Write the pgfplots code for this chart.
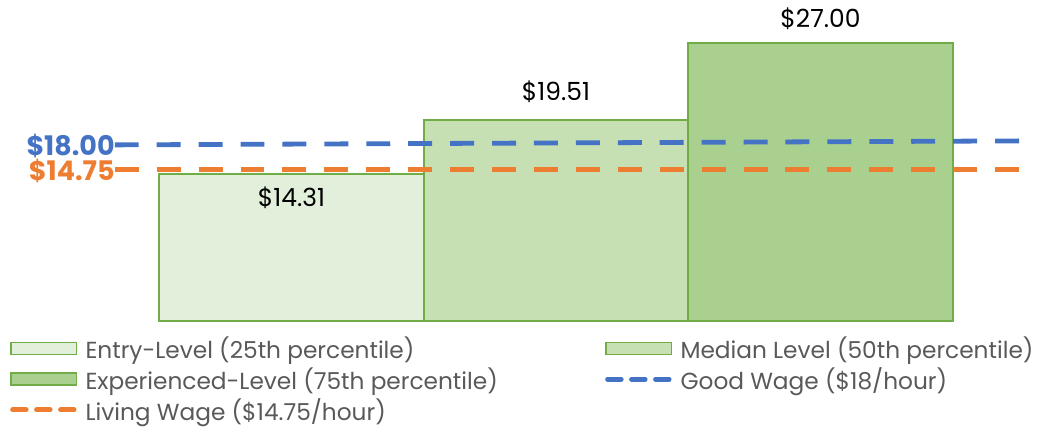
\documentclass[border=0pt]{standalone}
\usepackage{pgfplots}
\pgfplotsset{compat=1.18}
\usepackage{fontspec}
\setmainfont{Poppins}
\definecolor{bluew}{HTML}{4472C4}
\definecolor{orangew}{HTML}{ED7D31}
\definecolor{g1}{HTML}{E2EFDA}
\definecolor{g2}{HTML}{C6E0B4}
\definecolor{g3}{HTML}{A9D08E}
\definecolor{gb}{HTML}{70AD47}
\definecolor{txt}{HTML}{595959}
\begin{document}
\begin{tikzpicture}[x=1pt,y=1pt]
\begin{axis}[
  name=ax,
  scale only axis,
  width=910pt, height=320pt,
  xmin=-0.6679, xmax=2.7660,
  ymin=0, ymax=31,
  axis lines=none,
  clip=false,
  ybar, bar shift=0pt, bar width=1,
  legend columns=2,
  legend cell align=left,
  legend style={draw=none, fill=none, font=\fontsize{23.3}{27}\selectfont, text=txt,
    at={(axis description cs:-0.1154,-0.041)}, anchor=north west,
    inner sep=0pt, row sep=3.5pt,
    nodes={inner xsep=8.5pt, inner ysep=2pt},
    /tikz/column 2/.style={column sep=99pt}},
]
\addplot[draw=gb, line width=1.8pt, fill=g1,
  legend image code/.code={\draw[draw=gb, fill=g1, line width=1.5pt] (0.75pt,-6pt) rectangle (66.25pt,6pt);}]
  coordinates {(0,14.31)};
\addlegendentry{Entry-Level (25th percentile)}
\addplot[draw=gb, line width=1.8pt, fill=g2,
  legend image code/.code={\draw[draw=gb, fill=g2, line width=1.5pt] (0.75pt,-6pt) rectangle (66.25pt,6pt);}]
  coordinates {(1,19.51)};
\addlegendentry{Median Level (50th percentile)}
\addplot[draw=gb, line width=1.8pt, fill=g3,
  legend image code/.code={\draw[draw=gb, fill=g3, line width=1.5pt] (0.75pt,-6pt) rectangle (66.25pt,6pt);}]
  coordinates {(2,27.00)};
\addlegendentry{Experienced-Level (75th percentile)}
\addplot[sharp plot, bluew, line width=4.8pt, dash pattern=on 24pt off 18pt,
  legend image code/.code={\draw[bluew, line width=5pt, line cap=round, dash pattern=on 13.5pt off 10.5pt] (2.5pt,0pt) -- (64.5pt,0pt);}]
  coordinates {(-0.6679,17.13) (2.7660,17.52)};
\addlegendentry{Good Wage (\$18/hour)}
\addplot[sharp plot, orangew, line width=4.8pt, dash pattern=on 24pt off 18pt,
  legend image code/.code={\draw[orangew, line width=5pt, line cap=round, dash pattern=on 13.5pt off 10.5pt] (2.5pt,0pt) -- (64.5pt,0pt);}]
  coordinates {(-0.6679,14.71) (2.7660,14.71)};
\addlegendentry{Living Wage (\$14.75/hour)}
\node[font=\fontsize{25}{29}\selectfont, text=black] at (axis cs:0,12.0) {\$14.31};
\node[font=\fontsize{25}{29}\selectfont, text=black] at (axis cs:1,22.3) {\$19.51};
\node[font=\fontsize{25}{29}\selectfont, text=black] at (axis cs:2,29.4) {\$27.00};
\node[font=\bfseries\fontsize{27}{30}\selectfont, text=bluew, anchor=east, inner sep=0pt] at (axis cs:-0.6679,17.05) {\$18.00};
\node[font=\bfseries\fontsize{27}{30}\selectfont, text=orangew, anchor=east, inner sep=0pt] at (axis cs:-0.6679,14.55) {\$14.75};
\end{axis}
\path ([xshift=-115pt,yshift=-106pt]ax.south west) rectangle ([xshift=17pt,yshift=2pt]ax.north east);
\end{tikzpicture}
\end{document}
